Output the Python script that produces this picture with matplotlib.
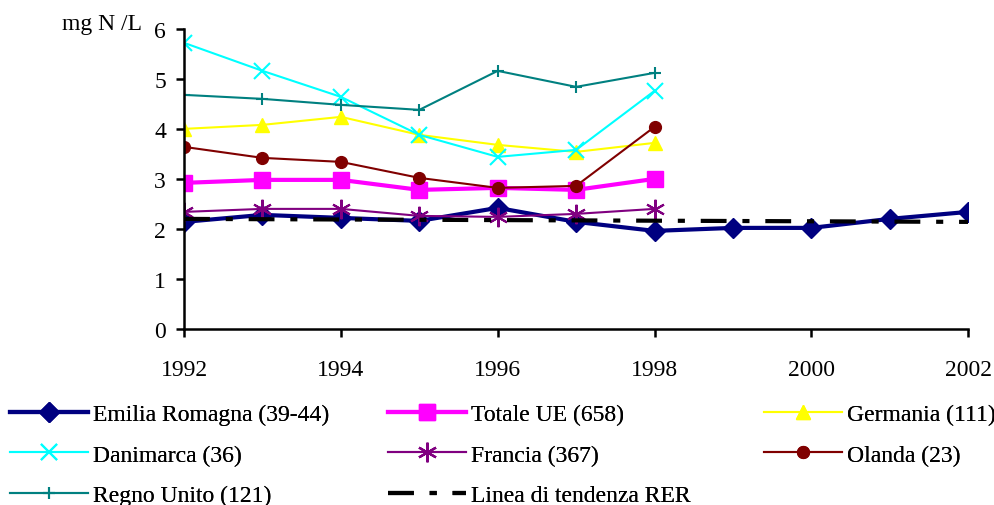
import matplotlib.pyplot as plt

plt.rcParams['font.family'] = ['Liberation Serif', 'DejaVu Serif']
plt.rcParams['font.size'] = 17

years_er = [1992, 1993, 1994, 1995, 1996, 1997, 1998, 1999, 2000, 2001, 2002]
years_eu = [1992, 1993, 1994, 1995, 1996, 1997, 1998]

emilia = [2.14, 2.28, 2.22, 2.16, 2.42, 2.14, 1.96, 2.02, 2.02, 2.20, 2.34]
totale_ue = [2.92, 2.98, 2.98, 2.78, 2.82, 2.78, 3.00]
germania = [4.00, 4.08, 4.24, 3.88, 3.68, 3.54, 3.72]
danimarca = [5.72, 5.16, 4.64, 3.88, 3.44, 3.58, 4.76]
francia = [2.34, 2.40, 2.40, 2.26, 2.24, 2.30, 2.40]
olanda = [3.64, 3.42, 3.34, 3.02, 2.82, 2.86, 4.04]
regno_unito = [4.68, 4.60, 4.48, 4.38, 5.16, 4.84, 5.12]

trend_years = [1992, 2002]
trend_vals = [2.20, 2.14]

fig = plt.figure(figsize=(9.95, 5.06), dpi=100)
ax = fig.add_axes([0.185, 0.348, 0.788, 0.593])

# drawn in series order, later ones on top
l_er, = ax.plot(years_er, emilia, color='#000080', lw=3, marker='D', ms=10.5,
                label='Emilia Romagna (39-44)')
l_ue, = ax.plot(years_eu, totale_ue, color='#ff00ff', lw=3, marker='s', ms=12,
                label='Totale UE (658)')
l_ge, = ax.plot(years_eu, germania, color='#ffff00', lw=1.5, marker='^', ms=9.5,
                label='Germania (111)')
l_da, = ax.plot(years_eu, danimarca, color='#00ffff', lw=1.5, marker='x', ms=12, mew=1.5,
                label='Danimarca (36)')
l_fr, = ax.plot(years_eu, francia, color='#800080', lw=1.5, marker=(6, 2, 0), ms=14, mew=1.5,
                label='Francia (367)')
l_ol, = ax.plot(years_eu, olanda, color='#800000', lw=1.5, marker='o', ms=8.5,
                label='Olanda (23)')
l_ru, = ax.plot(years_eu, regno_unito, color='#008080', lw=1.5, marker='+', ms=9, mew=1.5,
                label='Regno Unito (121)')
l_tr, = ax.plot(trend_years, trend_vals, color='black', lw=3, dashes=(6.2, 3.8, 1.7, 3.8),
                label='Linea di tendenza RER')

ax.set_xlim(1992, 2002)
ax.set_ylim(0, 6)
ax.set_xticks(range(1992, 2003, 2))
ax.set_yticks(range(0, 7))
for s in ['top', 'right']:
    ax.spines[s].set_visible(False)
for s in ['left', 'bottom']:
    ax.spines[s].set_linewidth(1.8)
ax.tick_params(width=1.8, length=6)
ax.tick_params(axis='y', pad=7)
ax.tick_params(axis='x', pad=16)

fig.text(0.103, 0.952, 'mg N /L', ha='center', va='center')

cols = [([l_er, l_da, l_ru], 0.010),
        ([l_ue, l_fr, l_tr], 0.390),
        ([l_ge, l_ol], 0.768)]
for handles, x in cols:
    leg = fig.legend(handles=handles, loc='upper left', bbox_to_anchor=(x, 0.2),
                     frameon=False, handlelength=3.3, handletextpad=0.2,
                     labelspacing=0.8, borderaxespad=0, borderpad=0)
    fig.add_artist(leg)

fig.savefig('out.png', dpi=100)
